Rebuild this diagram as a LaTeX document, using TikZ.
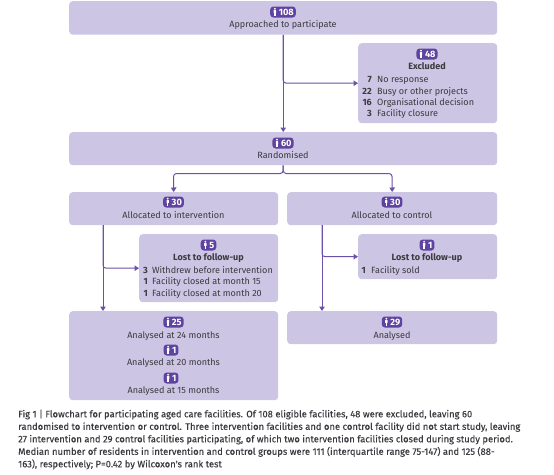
\documentclass[tikz,border=0pt]{standalone}
\usepackage{fontspec}
\setmainfont{Fira Sans}
\newfontfamily\capfont[FakeBold=0.25]{Fira Sans}
\definecolor{boxfill}{HTML}{CCC5E3}
\definecolor{linecol}{HTML}{6B52A8}
\definecolor{badgecol}{HTML}{5F43A0}
\definecolor{txt}{HTML}{3C3A40}
\usetikzlibrary{arrows.meta}
\tikzset{
  boxst/.style={fill=boxfill,rounded corners=3.5pt,inner sep=0pt,anchor=north west},
  arr/.style={draw=linecol,line width=1pt,rounded corners=3pt,-{Triangle[length=4.5pt,width=5.5pt]}},
  badgest/.style={fill=badgecol,rounded corners=3.2pt,text=white,font=\fontsize{9.2}{10}\selectfont\bfseries,inner ysep=0.6pt,inner xsep=2pt,minimum height=11pt,text depth=0pt,text height=6.6pt},
  txtbase/.style={text=txt,inner sep=0pt,text height=6.6pt,text depth=0.6pt},
  labst/.style={txtbase,font=\fontsize{9.05}{10}\selectfont},
  headst/.style={txtbase,font=\fontsize{9.05}{10}\selectfont\bfseries},
  numst/.style={txtbase,font=\fontsize{9.05}{10}\selectfont\bfseries,anchor=east},
  itemst/.style={txtbase,font=\fontsize{9.05}{10}\selectfont,anchor=west},
  capst/.style={text=txt,font=\capfont\fontsize{9.4}{12.5}\selectfont,inner sep=0pt,anchor=north west,align=left}
}
% badge with person icon: name, x, y, number
\newcommand{\badgeat}[4]{%
  \node[badgest] (#1) at (#2,#3) {\hspace{6.6pt}#4};
  \fill[white] ([xshift=4.8pt,yshift=3.3pt]#1.west) circle (1pt);
  \fill[white,rounded corners=0.6pt] ([xshift=3.6pt,yshift=2.1pt]#1.west) rectangle ([xshift=6pt,yshift=-1.2pt]#1.west);
  \fill[white] ([xshift=4.1pt,yshift=-1pt]#1.west) rectangle ([xshift=5.5pt,yshift=-4.2pt]#1.west);
}
\begin{document}
\begin{tikzpicture}[x=1pt,y=-1pt]
\useasboundingbox (0,0) rectangle (554,474);
% boxes
\node[boxst,minimum width=428pt,minimum height=33.5pt] (top) at (69,1) {};
\node[boxst,minimum width=139pt,minimum height=80pt] (excl) at (358,43) {};
\node[boxst,minimum width=428pt,minimum height=33pt] (rand) at (69,132) {};
\node[boxst,minimum width=209pt,minimum height=33pt] (allocL) at (69,192) {};
\node[boxst,minimum width=210pt,minimum height=33pt] (allocR) at (287,192) {};
\node[boxst,minimum width=139pt,minimum height=68pt] (lostL) at (139,234) {};
\node[boxst,minimum width=139pt,minimum height=45pt] (lostR) at (358,234) {};
\node[boxst,minimum width=209pt,minimum height=89pt] (anaL) at (69,311) {};
\node[boxst,minimum width=210pt,minimum height=33pt] (anaR) at (287,311) {};
% connector helpers
\coordinate (splitL) at (173.5,173.5);
\coordinate (splitR) at (392,173.5);
\coordinate (downL) at (103,225);
\coordinate (downR) at (322,225);
\coordinate (endL) at (103,311);
\coordinate (endR) at (322,311);
% connectors
\draw[arr] (top.south) -- (rand.north);
\draw[arr] (top.south) |- (excl.west);
\draw[arr] (rand.south) |- (splitL) -- (allocL.north);
\draw[arr] (rand.south) |- (splitR) -- (allocR.north);
\draw[arr] (downL) -- (endL);
\draw[arr] (downL) |- (lostL.west);
\draw[arr] (downR) -- (endR);
\draw[arr] (downR) |- (lostR.west);
% top
\badgeat{b108}{283}{12}{108}
\node[labst] (t1) at (283,24.5) {Approached to participate};
% excluded
\badgeat{b48}{427}{54}{48}
\node[headst] (t2) at (427,66.5) {Excluded};
\node[numst] (n1) at (372,79) {7};   \node[itemst] (i1) at (377,79) {No response};
\node[numst] (n2) at (372,91) {22};  \node[itemst] (i2) at (377,91) {Busy or other projects};
\node[numst] (n3) at (372,102) {16}; \node[itemst] (i3) at (377,102) {Organisational decision};
\node[numst] (n4) at (372,113) {3};  \node[itemst] (i4) at (377,113) {Facility closure};
% randomised
\badgeat{b60}{283}{143}{60}
\node[labst] (t3) at (283,155) {Randomised};
% allocated
\badgeat{b30a}{173.5}{202}{30}
\node[labst] (t4) at (173.5,215) {Allocated to intervention};
\badgeat{b30b}{392}{202}{30}
\node[labst] (t5) at (392,215) {Allocated to control};
% lost left
\badgeat{b5}{208.5}{245}{5}
\node[headst] (t6) at (208.5,257) {Lost to follow-up};
\node[numst] (n5) at (148,270) {3}; \node[itemst] (i5) at (152,270) {Withdrew before intervention};
\node[numst] (n6) at (148,281) {1}; \node[itemst] (i6) at (152,281) {Facility closed at month 15};
\node[numst] (n7) at (148,293) {1}; \node[itemst] (i7) at (152,293) {Facility closed at month 20};
% lost right
\badgeat{b1}{427}{245}{1}
\node[headst] (t7) at (427,257) {Lost to follow-up};
\node[numst] (n8) at (366,270) {1}; \node[itemst] (i8) at (371,270) {Facility sold};
% analysed
\badgeat{b25}{173.5}{322}{25}
\node[labst] (t8) at (173.5,335) {Analysed at 24 months};
\badgeat{b1a}{171}{350}{1}
\node[labst] (t9) at (173.5,362) {Analysed at 20 months};
\badgeat{b1b}{171}{378}{1}
\node[labst] (t10) at (173.5,390) {Analysed at 15 months};
\badgeat{b29}{392}{322}{29}
\node[labst] (t11) at (392,335) {Analysed};
% caption
\node[capst] (caption) at (18,409.5) {Fig 1 | Flowchart for participating aged care facilities. Of 108 eligible facilities, 48 were excluded, leaving 60\\
randomised to intervention or control. Three intervention facilities and one control facility did not start study, leaving\\
27 intervention and 29 control facilities participating, of which two intervention facilities closed during study period.\\
Median number of residents in intervention and control groups were 111 (interquartile range 75-147) and 125 (88-\\
163), respectively; P=0.42 by Wilcoxon's rank test};
\end{tikzpicture}
\end{document}
